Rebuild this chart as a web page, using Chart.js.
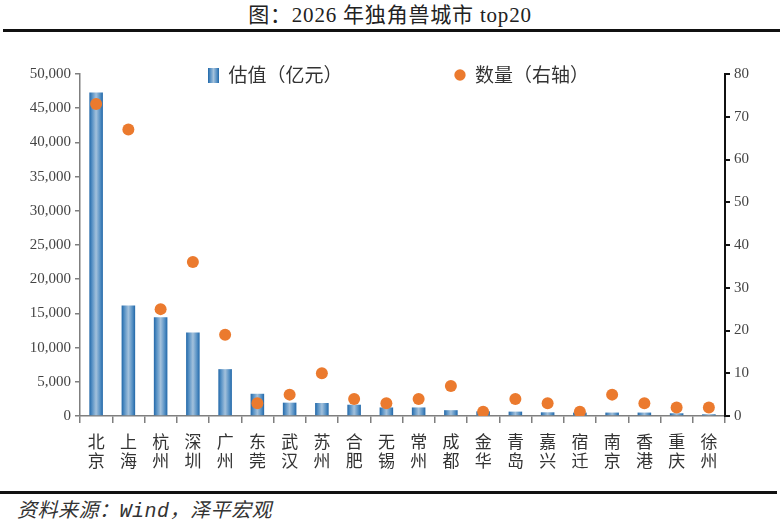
<!DOCTYPE html>
<html>
<head>
<meta charset="utf-8">
<script src="https://cdn.jsdelivr.net/npm/chart.js@4"></script>
<style>
body { margin: 0; background: #fff; width: 780px; height: 526px; position: relative; overflow: hidden; }
#title { position: absolute; top: 2px; left: 0; width: 780px; text-align: center; font: 21px "Liberation Serif", "Noto Sans CJK SC"; letter-spacing: 0.8px; color: #222; line-height: 26px; }
#rule1 { position: absolute; top: 29px; left: 3px; width: 777px; height: 3px; background: #111; }
#rule2 { position: absolute; top: 491px; left: 0; width: 777px; height: 3px; background: #111; }
#wrap { position: absolute; top: 40px; left: 0; width: 780px; height: 448px; }
#source { position: absolute; top: 500px; left: 17px; font: italic 20px "Liberation Mono", "Noto Sans CJK SC"; letter-spacing: 0.5px; color: #333; line-height: 24px; }
</style>
</head>
<body>
<div id="title">图：2026 年独角兽城市 top20</div>
<div id="rule1"></div>
<div id="wrap"><canvas id="chart"></canvas></div>
<div id="rule2"></div>
<div id="source">资料来源：Wind，泽平宏观</div>
<script>
const cities = ['北京', '上海', '杭州', '深圳', '广州', '东莞', '武汉', '苏州', '合肥', '无锡',
    '常州', '成都', '金华', '青岛', '嘉兴', '宿迁', '南京', '香港', '重庆', '徐州'];
// 估值（亿元）
const valuation = [47300, 16150, 14450, 12200, 6850, 3250, 1950, 1900, 1650, 1250,
    1250, 850, 680, 640, 540, 500, 500, 500, 400, 250];
// 数量（右轴）
const counts = [73, 67, 25, 36, 19, 3, 5, 10, 4, 3, 4, 7, 1, 4, 3, 1, 5, 3, 2, 2];
const leftTicks = [0, 50000, 5000];
const rightTicks = [0, 80, 10];

const serif = '"Liberation Serif", "Noto Sans CJK SC"';
const cjk = '"Noto Sans CJK SC"';
const blueDark = '#2167a8';
const blueMid = '#5590c4';
const blueLight = '#a3c1dc';
const orange = '#eb7a2e';

function shade(g) {
    g.addColorStop(0, blueDark);
    g.addColorStop(0.2, blueMid);
    g.addColorStop(0.5, blueLight);
    g.addColorStop(0.8, blueMid);
    g.addColorStop(1, blueDark);
    return g;
}

// little gradient swatch for the legend
const swatch = document.createElement('canvas');
swatch.width = 11;
swatch.height = 15;
const sctx = swatch.getContext('2d');
sctx.fillStyle = shade(sctx.createLinearGradient(0, 0, 11, 0));
sctx.fillRect(0, 0, 11, 15);

function barFill(c) {
    const chart = c.chart;
    const area = chart.chartArea;
    if (!area || c.dataIndex === undefined) return blueMid;
    const x = chart.scales.x.getPixelForValue(c.dataIndex);
    const half = (area.right - area.left) / cities.length * 0.42 / 2;
    return shade(chart.ctx.createLinearGradient(x - half, 0, x + half, 0));
}

// legend sits inside the plot, not above it
const legendInside = {
    id: 'legendInside',
    beforeLayout(chart) {
        const lg = chart.legend;
        if (lg && !lg.patched) {
            const fit = lg.fit;
            lg.fit = function () { fit.call(this); this.height = 0; };
            lg.patched = true;
        }
    },
    afterLayout(chart) {
        const lg = chart.legend;
        const p = lg.options.labels.padding;
        const fs = lg.options.labels.font.size;
        lg.top = chart.chartArea.top + 1 - p - fs / 2;
        lg.bottom = chart.chartArea.top + 30;
        lg.height = lg.bottom - lg.top;
        lg.left = 17;
        lg.right = 780;
        lg.width = lg.right - lg.left;
    }
};

new Chart(document.getElementById('chart'), {
    data: {
        labels: cities.map(c => c.split('')),
        datasets: [
            {
                type: 'bar',
                label: '估值（亿元）',
                data: valuation,
                yAxisID: 'y',
                backgroundColor: barFill,
                pointStyle: swatch,
                barPercentage: 0.42,
                categoryPercentage: 1,
                order: 2
            },
            {
                type: 'line',
                label: '数量（右轴）',
                data: counts,
                yAxisID: 'y1',
                showLine: false,
                pointRadius: 6,
                pointHoverRadius: 6,
                pointBorderWidth: 0,
                pointBackgroundColor: orange,
                backgroundColor: orange,
                borderColor: orange,
                pointStyle: 'circle',
                order: 1
            }
        ]
    },
    options: {
        responsive: true,
        maintainAspectRatio: false,
        animation: false,
        layout: { padding: { top: 34, left: 0, right: 0, bottom: 0 } },
        plugins: {
            tooltip: { enabled: false },
            legend: {
                position: 'top',
                labels: {
                    usePointStyle: true,
                    boxWidth: 11,
                    boxHeight: 8,
                    padding: 112,
                    color: '#333',
                    font: { family: cjk, size: 19 },
                    sort: (a, b) => a.datasetIndex - b.datasetIndex
                }
            }
        },
        scales: {
            x: {
                offset: true,
                grid: { display: true, drawOnChartArea: false, offset: true, tickLength: 7, color: '#7f7f7f', lineWidth: 1.5 },
                border: { color: '#7f7f7f', width: 1.5 },
                ticks: { autoSkip: false, maxRotation: 0, padding: 9, color: '#333', font: { family: cjk, size: 17, lineHeight: 1.12 } },
                afterFit: s => { s.height = 72; }
            },
            y: {
                position: 'left',
                min: leftTicks[0],
                max: leftTicks[1],
                ticks: { stepSize: leftTicks[2], padding: 4, color: '#444', font: { family: serif, size: 15 },
                    callback: v => v.toLocaleString('en-US') },
                grid: { drawOnChartArea: false, tickLength: 5, color: '#7f7f7f', lineWidth: 1.5 },
                border: { color: '#7f7f7f', width: 1.5 },
                afterFit: s => { s.width = 80; }
            },
            y1: {
                position: 'right',
                min: rightTicks[0],
                max: rightTicks[1],
                ticks: { stepSize: rightTicks[2], padding: 4, color: '#444', font: { family: serif, size: 15 } },
                grid: { drawOnChartArea: false, tickLength: 5, color: '#111', lineWidth: 2 },
                border: { color: '#111', width: 2 },
                afterFit: s => { s.width = 55; }
            }
        }
    },
    plugins: [legendInside]
});
</script>
</body>
</html>
